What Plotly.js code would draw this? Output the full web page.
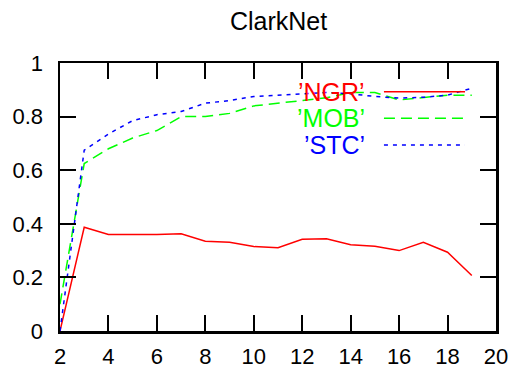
<!DOCTYPE html>
<html>
<head>
<meta charset="utf-8">
<script src="https://cdn.plot.ly/plotly-3.0.1.min.js"></script>
<style>html,body{margin:0;padding:0;background:#fff;}</style>
</head>
<body>
<div id="chart" style="width:512px;height:370px;"></div>
<script>
const xValues = [2, 3, 4, 5, 6, 7, 8, 9, 10, 11, 12, 13, 14, 15, 16, 17, 18, 19];
const ngr = [0, 0.387, 0.36, 0.36, 0.36, 0.363, 0.335, 0.331, 0.315, 0.311, 0.342, 0.344, 0.322, 0.316, 0.300, 0.331, 0.294, 0.207];
const mob = [0.1, 0.625, 0.68, 0.72, 0.748, 0.80, 0.80, 0.812, 0.84, 0.85, 0.86, 0.87, 0.89, 0.89, 0.862, 0.87, 0.88, 0.88];
const stc = [0, 0.675, 0.735, 0.785, 0.807, 0.819, 0.85, 0.86, 0.875, 0.88, 0.885, 0.89, 0.885, 0.875, 0.869, 0.872, 0.88, 0.906];
const seriesNames = ["’NGR’", "’MOB’", "’STC’"];
const seriesColors = ["#ff0000", "#00ff00", "#0000ff"];
const seriesDash = ["solid", "11px,6px", "4px,5px"];
const xTicks = [2, 4, 6, 8, 10, 12, 14, 16, 18, 20];
const yTicks = [0, 0.2, 0.4, 0.6, 0.8, 1];
const yTickText = ["0", "0.2", "0.4", "0.6", "0.8", "1"];

const allY = [ngr, mob, stc];
const traces = allY.map((ys, i) => ({
  x: xValues, y: ys, type: "scatter", mode: "lines", name: seriesNames[i],
  line: {color: seriesColors[i], width: 1.5, dash: seriesDash[i]}
}));

// legend (gnuplot style: text right-aligned, sample line to the right)
const legendRowsY = [0.893, 0.794, 0.694];
const annotations = seriesNames.map((n, i) => ({
  xref: "paper", yref: "paper", x: 0.705, y: legendRowsY[i],
  xanchor: "right", yanchor: "middle", showarrow: false, text: n,
  font: {family: "Liberation Sans, Arial, sans-serif", size: 25, color: seriesColors[i]}
}));
const shapes = seriesNames.map((n, i) => ({
  type: "line", xref: "paper", yref: "paper", x0: 0.743, x1: 0.929,
  y0: legendRowsY[i], y1: legendRowsY[i],
  line: {color: seriesColors[i], width: 1.5, dash: seriesDash[i]}
}));

const axisCommon = {
  showgrid: false, zeroline: false, showline: true, linecolor: "#000", linewidth: 2.5,
  mirror: "ticks", ticks: "inside", ticklen: 16, tickwidth: 2, tickcolor: "#000",
  tickfont: {family: "Liberation Sans, Arial, sans-serif", size: 22, color: "#000"}
};

const layout = {
  width: 512, height: 370,
  margin: {l: 60, r: 16, t: 63, b: 39, pad: 0},
  paper_bgcolor: "#fff", plot_bgcolor: "#fff",
  showlegend: false,
  title: {text: "ClarkNet", x: 0.544, xanchor: "center", y: 0.943, yanchor: "middle",
          font: {family: "Liberation Sans, Arial, sans-serif", size: 25, color: "#000"}},
  xaxis: Object.assign({}, axisCommon, {range: [2, 20], tickvals: xTicks, ticktext: xTicks.map(String), ticklabelstandoff: 4}),
  yaxis: Object.assign({}, axisCommon, {range: [0, 1], tickvals: yTicks, ticktext: yTickText, ticklabelstandoff: 10}),
  annotations: annotations,
  shapes: shapes
};

Plotly.newPlot("chart", traces, layout, {staticPlot: true, displayModeBar: false});
</script>
</body>
</html>
